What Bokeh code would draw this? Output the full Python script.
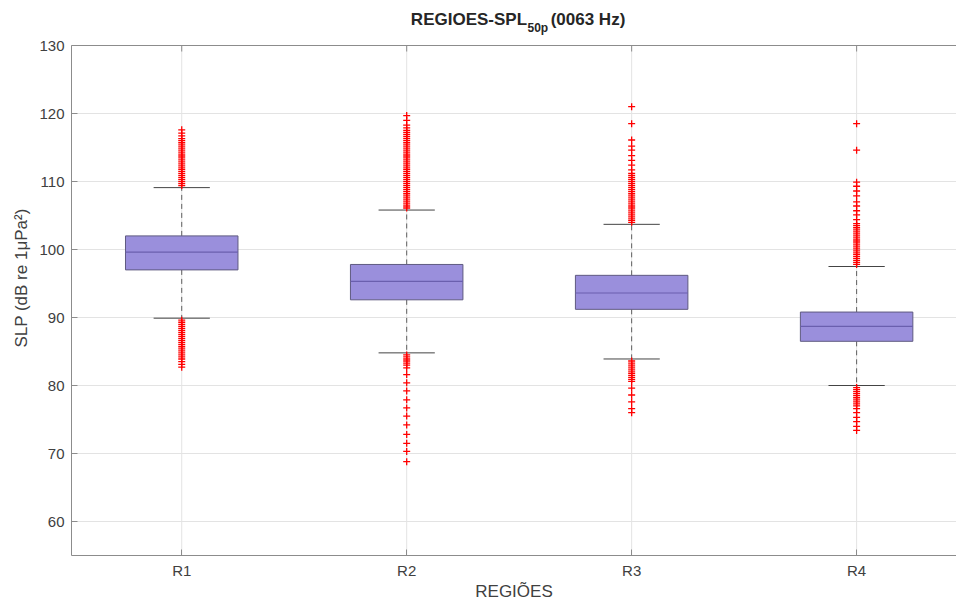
from bokeh.plotting import figure
from bokeh.models import Range1d, FixedTicker, Label, ColumnDataSource, Span
from bokeh.embed import file_html
from bokeh.resources import INLINE

# Box statistics per region (dB)
regions = ["R1", "R2", "R3", "R4"]
positions = [1, 2, 3, 4]
q1 = [97.0, 92.6, 91.2, 86.5]
medians = [99.6, 95.3, 93.6, 88.7]
q3 = [102.0, 97.8, 96.2, 90.8]
whisker_low = [89.9, 84.8, 83.9, 80.0]
whisker_high = [109.1, 105.8, 103.7, 97.5]

# Outliers beyond the whiskers
out_r1 = [109.4, 109.7, 110.0, 110.3, 110.6, 110.9, 111.2, 111.5, 111.8, 112.1,
          112.4, 112.7, 113.0, 113.3, 113.6, 113.9, 114.2, 114.5, 114.8, 115.1,
          115.4, 115.7, 116.0, 116.3, 116.7, 117.1, 117.6,
          89.6, 89.3, 89.0, 88.7, 88.4, 88.1, 87.8, 87.5, 87.2, 86.9, 86.6,
          86.3, 86.0, 85.7, 85.4, 85.1, 84.8, 84.5, 84.2, 83.9, 83.5, 83.1, 82.7]
out_r2 = [106.1, 106.4, 106.7, 107.0, 107.3, 107.6, 107.9, 108.2, 108.5, 108.8,
          109.1, 109.4, 109.7, 110.0, 110.3, 110.6, 110.9, 111.2, 111.5, 111.8,
          112.1, 112.4, 112.7, 113.0, 113.3, 113.6, 113.9, 114.2, 114.5, 114.8,
          115.1, 115.4, 115.7, 116.0, 116.3, 116.6, 116.9, 117.2, 117.5, 117.9,
          118.3, 119.0, 119.7,
          84.5, 84.2, 83.9, 83.6, 83.3, 83.0, 82.6, 81.6, 80.4, 79.2, 77.9,
          76.7, 75.5, 74.2, 72.8, 71.5, 70.3, 68.8]
out_r3 = [104.0, 104.3, 104.6, 104.9, 105.2, 105.5, 105.8, 106.1, 106.4, 106.7,
          107.0, 107.3, 107.6, 107.9, 108.2, 108.5, 108.8, 109.1, 109.4, 109.7,
          110.0, 110.3, 110.6, 110.9, 111.2, 111.7, 112.4, 113.1, 113.8, 114.6,
          115.2, 116.1, 118.5, 121.0,
          83.6, 83.3, 83.0, 82.7, 82.4, 82.1, 81.8, 81.5, 81.2, 80.9, 80.6,
          79.6, 78.6, 77.6, 76.6, 76.0]
out_r4 = [97.8, 98.1, 98.4, 98.7, 99.0, 99.3, 99.6, 99.9, 100.2, 100.5, 100.8,
          101.1, 101.4, 101.7, 102.0, 102.3, 102.6, 102.9, 103.2, 103.5, 103.8,
          104.4, 105.1, 105.7, 106.4, 107.0, 107.9, 108.6, 109.3, 109.9, 114.6,
          118.5,
          79.7, 79.4, 79.1, 78.8, 78.5, 78.2, 77.9, 77.6, 77.3, 77.0, 76.6,
          76.0, 75.3, 74.7, 74.0, 73.4]
outliers = [out_r1, out_r2, out_r3, out_r4]

y_ticks = [60, 70, 80, 90, 100, 110, 120, 130]
y_min, y_max = 55, 130

FONT = "Liberation Sans"
FRAME = "#8c8c8c"
GRID = "#e3e3e3"
TEXT = "#404040"

# The drawing area runs to the top of the canvas so that the title (with its
# subscript) can be set as ordinary labels above the axes box.
height, top_pad, bottom_pad = 603, 45, 48
axes_px = height - top_pad - bottom_pad
px_per_unit = axes_px / (y_max - y_min)
y_top = y_max + top_pad / px_per_unit

p = figure(width=956, height=height, output_backend="svg", toolbar_location=None,
           x_range=Range1d(0.51, 4.444), y_range=Range1d(y_min, y_top),
           min_border_left=71, min_border_right=0, min_border_top=0,
           min_border_bottom=bottom_pad)

p.background_fill_color = "white"
p.border_fill_color = "white"
p.outline_line_color = None

# Axes
p.xaxis.ticker = FixedTicker(ticks=positions)
p.xaxis.major_label_overrides = {pos: lab for pos, lab in zip(positions, regions)}
p.yaxis.ticker = FixedTicker(ticks=y_ticks)
p.yaxis.bounds = (y_min, y_max)
for ax in (p.xaxis[0], p.yaxis[0]):
    ax.axis_line_color = FRAME
    ax.major_tick_line_color = FRAME
    ax.major_tick_in = 6
    ax.major_tick_out = 0
    ax.minor_tick_line_color = None
    ax.major_label_text_font = FONT
    ax.major_label_text_font_size = "15px"
    ax.major_label_text_color = TEXT
    ax.axis_label_text_font = FONT
    ax.axis_label_text_font_size = "17px"
    ax.axis_label_text_font_style = "normal"
    ax.axis_label_text_color = TEXT

p.xaxis.axis_label = "REGIÕES"
p.xaxis.major_label_standoff = 6
p.xaxis.axis_label_standoff = 0
p.yaxis.axis_label = "SLP (dB re 1μPa²)"
p.yaxis.major_label_standoff = 7
p.yaxis.axis_label_standoff = 5

# Grid: horizontal lines from the y ticker, vertical lines only inside the box
p.xgrid.visible = False
p.ygrid.ticker = FixedTicker(ticks=y_ticks)
p.ygrid.grid_line_color = GRID
p.ygrid.grid_line_width = 1
p.segment(x0=positions, y0=[y_min] * 4, x1=positions, y1=[y_max] * 4,
          line_color=GRID, line_width=1)

# Top edge of the axes box with inward ticks
p.add_layout(Span(location=y_max, dimension="width", line_color=FRAME, line_width=1))
tick_len = 6 / px_per_unit
p.segment(x0=positions, y0=[y_max] * 4, x1=positions, y1=[y_max - tick_len] * 4,
          line_color=FRAME, line_width=1)

half_box = 0.25
half_cap = 0.125

boxes = ColumnDataSource(dict(
    left=[x - half_box for x in positions], right=[x + half_box for x in positions],
    bottom=q1, top=q3, x=positions, med=medians,
    wl=whisker_low, wh=whisker_high,
    cl=[x - half_cap for x in positions], cr=[x + half_cap for x in positions],
))

# Dashed whiskers
p.segment(x0="x", y0="top", x1="x", y1="wh", source=boxes, line_color="#606060",
          line_dash="5 4", line_width=1)
p.segment(x0="x", y0="bottom", x1="x", y1="wl", source=boxes, line_color="#606060",
          line_dash="5 4", line_width=1)

# Whisker caps
p.segment(x0="cl", y0="wh", x1="cr", y1="wh", source=boxes, line_color="#444444", line_width=1)
p.segment(x0="cl", y0="wl", x1="cr", y1="wl", source=boxes, line_color="#444444", line_width=1)

# Boxes and medians
p.quad(left="left", right="right", bottom="bottom", top="top", source=boxes,
       fill_color="#9a8fdc", fill_alpha=1.0, line_color="#5f5a80", line_width=1)
p.segment(x0="left", y0="med", x1="right", y1="med", source=boxes,
          line_color="#6a5fae", line_width=1.2)

# Outlier markers
ox, oy = [], []
for pos, vals in zip(positions, outliers):
    ox.extend([pos] * len(vals))
    oy.extend(vals)
p.scatter(ox, oy, marker="cross", size=7, line_color="#ff0000", line_width=1.3)

# Title with subscript
title_y = y_max + 26 / px_per_unit
sub_y = y_max + 18 / px_per_unit
title_kw = dict(text_baseline="middle", text_font=FONT, text_font_style="bold",
                text_color="#262626")
p.add_layout(Label(x=2.535, y=title_y, text="REGIOES-SPL", text_align="right",
                   text_font_size="17px", **title_kw))
p.add_layout(Label(x=2.537, y=sub_y, text="50p", text_align="left",
                   text_font_size="12px", **title_kw))
p.add_layout(Label(x=2.64, y=title_y, text="(0063 Hz)", text_align="left",
                   text_font_size="17px", **title_kw))

open("out.html", "w").write(file_html(p, INLINE))
